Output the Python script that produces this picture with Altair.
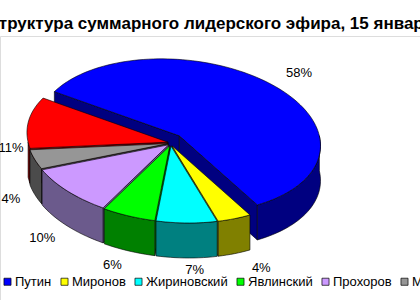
import math
import altair as alt
import pandas as pd

# ---- data ----
names = ["Путин", "Миронов", "Жириновский", "Явлинский", "Прохоров", "Медведев", "Зюганов"]
shares = [58, 4, 7, 6, 10, 4, 11]
top_colors = ["#0000FF", "#FFFF00", "#00FFFF", "#00FF00", "#CC99FF", "#969696", "#FF0000"]
side_colors = ["#000080", "#808000", "#008080", "#008000", "#6B5A8C", "#4B4B4B", "#800000"]
TITLE = "Структура суммарного лидерского эфира, 15 января"

# ---- geometry of the pseudo-3D pie (styling, not data) ----
W, H, TOP = 420, 264, 36
cx, cy = 171.0, 143.0 - TOP
a, b, h = 140.0, 77.0, 35.0
skew = 18.0
start = -55.0
ex_main, ex_other = 11.0, 3.0


def proj(theta, r, z, ox, oy):
    t = math.radians(theta)
    u, v = r * math.sin(t), r * math.cos(t)
    return cx + ox + a * u - skew * v, cy + oy - b * v + z, v


def arc(t0, t1, z, ox, oy):
    n = max(2, int(math.ceil(abs(t1 - t0) / 2.0))) + 1
    return [proj(t0 + (t1 - t0) * k / (n - 1), 1.0, z, ox, oy) for k in range(n)]


total = float(sum(shares))
tops, sides, labels = [], [], []
acc = start
for i, (nm, s) in enumerate(zip(names, shares)):
    t0 = acc
    t1 = acc + 360.0 * s / total
    acc = t1
    mid = math.radians((t0 + t1) / 2)
    e = ex_main if i == 0 else ex_other
    ox, oy = e * math.sin(mid), -e * math.cos(mid)
    vshift = e * math.cos(mid) / b

    # top face
    pts = [proj(t0, 0, 0, ox, oy)] + arc(t0, t1, 0, ox, oy) + [proj(t0, 0, 0, ox, oy)]
    for k, (x, y, _) in enumerate(pts):
        tops.append({"pid": f"t{i}", "name": nm, "idx": k, "x": x, "y": y})

    faces = []
    # outer curved side (front half only)
    for lo, hi in [(-270, -90), (90, 270), (450, 630)]:
        s0, s1 = max(t0, lo), min(t1, hi)
        if s1 > s0:
            p = arc(s0, s1, 0, ox, oy) + arc(s1, s0, h, ox, oy)
            p.append(p[0])
            faces.append(p)
    # radial cut faces
    if math.sin(math.radians(t0)) < 0:
        faces.append([proj(t0, 0, 0, ox, oy), proj(t0, 1, 0, ox, oy), proj(t0, 1, h, ox, oy),
                      proj(t0, 0, h, ox, oy), proj(t0, 0, 0, ox, oy)])
    if math.sin(math.radians(t1)) > 0:
        faces.append([proj(t1, 0, 0, ox, oy), proj(t1, 1, 0, ox, oy), proj(t1, 1, h, ox, oy),
                      proj(t1, 0, h, ox, oy), proj(t1, 0, 0, ox, oy)])
    for f in faces:
        depth = sum(p[2] for p in f) / len(f) + vshift
        sides.append((depth, side_colors[i], f))

    # percentage label, placed outside the slice and kept inside the frame
    u, v = math.sin(mid), math.cos(mid)
    front = max(0.0, -v)
    kx = 1.19 + 0.28 * front ** 3 + 0.3 * max(0.0, v - 0.4)
    ky = 1.15
    lx = max(11.0, cx + ox + (a * u - skew * v) * kx)
    ly = cy + oy - b * ky * v + 35 - 90 * max(0.0, v - 0.2) + 10 * front * abs(u)
    labels.append({"x": lx, "y": ly, "text": f"{s}%"})

side_rows = []
for r, (d, col, f) in enumerate(sorted(sides, key=lambda q: -q[0])):
    for k, (x, y, _) in enumerate(f):
        side_rows.append({"pid": f"s{r:03d}", "fill": col, "idx": k, "x": x, "y": y})

df_top = pd.DataFrame(tops)
df_side = pd.DataFrame(side_rows)
df_lab = pd.DataFrame(labels)

X = alt.X("x:Q", scale=alt.Scale(domain=[0, W], nice=False, zero=False), axis=None)
Y = alt.Y("y:Q", scale=alt.Scale(domain=[0, H], nice=False, zero=False, reverse=True), axis=None)

side_layer = alt.Chart(df_side).mark_line(
    filled=True, stroke="#000000", strokeWidth=0.6, strokeJoin="round"
).encode(
    x=X, y=Y, detail="pid:N", order="idx:Q",
    fill=alt.Fill("fill:N", scale=None),
)

top_layer = alt.Chart(df_top).mark_line(
    filled=True, stroke="#000000", strokeWidth=0.6, strokeJoin="round"
).encode(
    x=X, y=Y, detail="pid:N", order="idx:Q",
    fill=alt.Fill(
        "name:N",
        scale=alt.Scale(domain=names, range=top_colors),
        sort=names,
        legend=alt.Legend(
            orient="none", legendX=1, legendY=239, direction="horizontal", title=None,
            symbolType="square", symbolSize=50, symbolStrokeColor="#000000",
            symbolStrokeWidth=0.7, symbolOpacity=1, labelFont="Liberation Sans",
            labelFontSize=13, labelColor="#000000", labelOffset=1, columnPadding=6,
            padding=0, labelLimit=0,
        ),
    ),
)

label_layer = alt.Chart(df_lab).mark_text(
    font="Liberation Sans", fontSize=13, color="#000000", align="center", baseline="middle"
).encode(x=X, y=Y, text="text:N")

chart = alt.layer(side_layer, top_layer, label_layer).properties(
    width=W, height=H,
    padding={"left": 0, "right": 0, "top": TOP, "bottom": 0},
    autosize=alt.AutoSizeParams(type="none"),
    title=alt.TitleParams(
        TITLE, font="Liberation Sans", fontSize=17, fontWeight="bold",
        anchor="middle", color="#000000", offset=3,
    ),
).configure_view(stroke=None).configure(background="#FFFFFF")

chart.save("out.html", embed_options={"renderer": "svg", "actions": False})
